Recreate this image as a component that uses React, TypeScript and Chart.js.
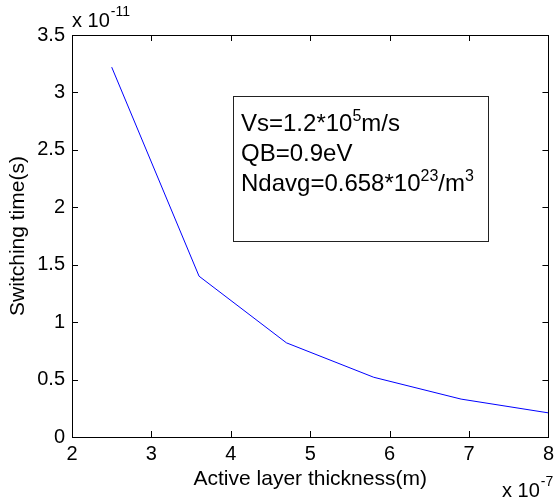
import React, { useEffect, useRef } from "react";
import { Chart, registerables } from "chart.js";

Chart.register(...registerables);

const thickness = [2.5, 3.6, 4.7, 5.8, 6.9, 8.0];
const switchingTime = [3.22, 1.4, 0.82, 0.52, 0.33, 0.21];
const xTickValues = [2, 3, 4, 5, 6, 7, 8];
const yTickValues = [0, 0.5, 1, 1.5, 2, 2.5, 3, 3.5];
const xTitle = "Active layer thickness(m)";
const yTitle = "Switching time(s)";
const xExponent = "-7";
const yExponent = "-11";
const FONT = "'Liberation Sans', Arial, sans-serif";

const boxPlugin = {
  id: "matlabBox",
  afterDraw(chart: any) {
    const ctx = chart.ctx;
    const { left, right, top, bottom } = chart.chartArea;
    const xs = chart.scales.x;
    const ys = chart.scales.y;
    ctx.save();
    ctx.strokeStyle = "#000";
    ctx.lineWidth = 1;
    ctx.strokeRect(Math.round(left) + 0.5, Math.round(top) + 0.5, Math.round(right - left), Math.round(bottom - top));
    const tl = 6;
    ctx.beginPath();
    xTickValues.forEach((v) => {
      const px = Math.round(xs.getPixelForValue(v)) + 0.5;
      ctx.moveTo(px, bottom);
      ctx.lineTo(px, bottom - tl);
      ctx.moveTo(px, top);
      ctx.lineTo(px, top + tl);
    });
    yTickValues.forEach((v) => {
      const py = Math.round(ys.getPixelForValue(v)) + 0.5;
      ctx.moveTo(left, py);
      ctx.lineTo(left + tl, py);
      ctx.moveTo(right, py);
      ctx.lineTo(right - tl, py);
    });
    ctx.stroke();

    ctx.fillStyle = "#000";
    ctx.textBaseline = "alphabetic";
    ctx.textAlign = "left";
    ctx.font = `20px ${FONT}`;
    ctx.fillText("x 10", left, 27);
    let w = ctx.measureText("x 10").width;
    ctx.font = `14px ${FONT}`;
    ctx.fillText(yExponent, left + w + 1, 16);

    ctx.font = `20px ${FONT}`;
    const ex = 502;
    ctx.fillText("x 10", ex, 497);
    w = ctx.measureText("x 10").width;
    ctx.font = `14px ${FONT}`;
    ctx.fillText(xExponent, ex + w + 1, 486);

    const bx = 233, by = 96, bw = 255, bh = 145;
    ctx.fillStyle = "#fff";
    ctx.fillRect(bx, by, bw, bh);
    ctx.strokeStyle = "#222";
    ctx.strokeRect(bx + 0.5, by + 0.5, bw, bh);

    const drawRich = (parts: Array<[string, boolean]>, x: number, y: number) => {
      let cx = x;
      parts.forEach(([t, sup]) => {
        ctx.font = sup ? `16px ${FONT}` : `24px ${FONT}`;
        ctx.fillStyle = "#000";
        ctx.fillText(t, cx, sup ? y - 10 : y);
        cx += ctx.measureText(t).width;
      });
    };
    drawRich([["Vs=1.2*10", false], ["5", true], ["m/s", false]], 241, 131);
    drawRich([["QB=0.9eV", false]], 241, 161);
    drawRich([["Ndavg=0.658*10", false], ["23", true], ["/m", false], ["3", true]], 241, 191);
    ctx.restore();
  },
};

export default function App() {
  const ref = useRef<HTMLCanvasElement | null>(null);
  useEffect(() => {
    document.body.style.margin = "0";
    const canvas = ref.current!;
    const chart = new Chart(canvas, {
      type: "line",
      data: {
        datasets: [
          {
            data: thickness.map((x, i) => ({ x, y: switchingTime[i] })),
            borderColor: "#0000ff",
            borderWidth: 1,
            pointRadius: 0,
            fill: false,
            tension: 0,
          },
        ],
      },
      options: {
        animation: false,
        responsive: false,
        maintainAspectRatio: false,
        layout: { padding: { left: 0, top: 35, right: 6, bottom: 0 } },
        plugins: { legend: { display: false }, tooltip: { enabled: false } },
        scales: {
          x: {
            type: "linear",
            min: 2,
            max: 8,
            afterBuildTicks: (s: any) => {
              s.ticks = xTickValues.map((v) => ({ value: v }));
            },
            afterFit: (s: any) => {
              s.height = 62;
            },
            grid: { display: false, drawTicks: false },
            border: { display: false },
            ticks: {
              color: "#000",
              font: { family: FONT, size: 20 },
              padding: 5,
              maxRotation: 0,
              callback: (v: any) => String(v),
            },
            title: {
              display: true,
              text: xTitle,
              color: "#000",
              font: { family: FONT, size: 21 },
              padding: { top: 0, bottom: 7 },
            },
          },
          y: {
            type: "linear",
            min: 0,
            max: 3.5,
            afterBuildTicks: (s: any) => {
              s.ticks = yTickValues.map((v) => ({ value: v }));
            },
            afterFit: (s: any) => {
              s.width = 72;
            },
            grid: { display: false, drawTicks: false },
            border: { display: false },
            ticks: {
              color: "#000",
              font: { family: FONT, size: 20 },
              padding: 7,
              callback: (v: any) => String(v),
            },
            title: {
              display: true,
              text: yTitle,
              color: "#000",
              font: { family: FONT, size: 21 },
              padding: { top: 6, bottom: 0 },
            },
          },
        },
      },
      plugins: [boxPlugin],
    });
    return () => chart.destroy();
  }, []);
  return <canvas ref={ref} width={559} height={499} style={{ display: "block" }} />;
}
